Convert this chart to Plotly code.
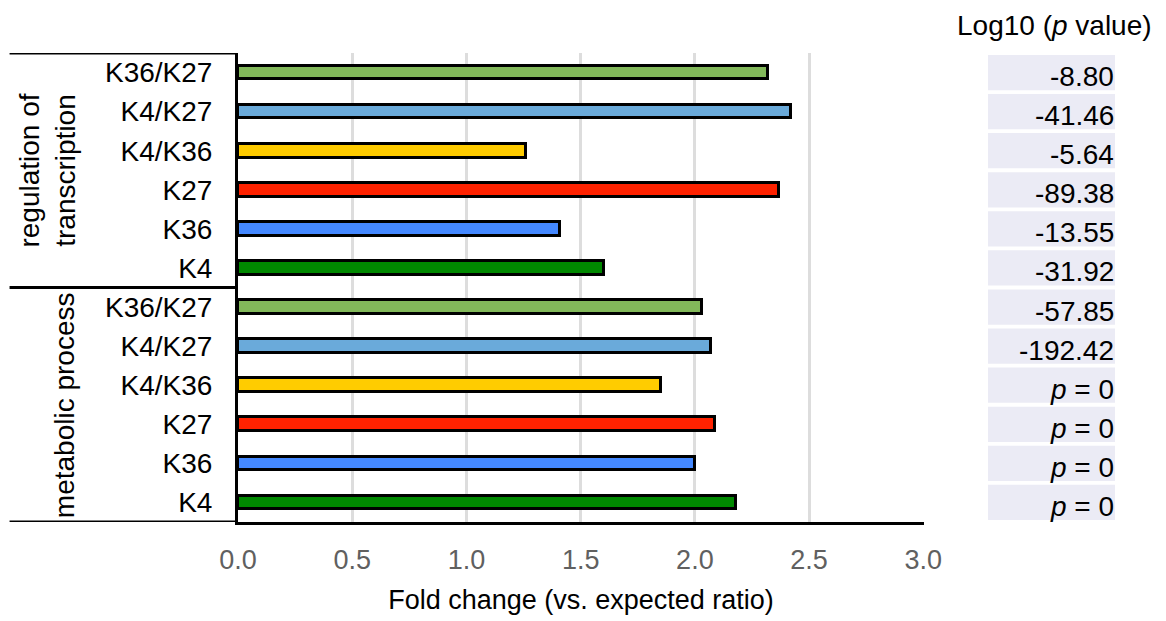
import plotly.graph_objects as go

# Categories, listed top to bottom within each group
groups = ["regulation of<br>transcription", "metabolic process"]
marks = ["K36/K27", "K4/K27", "K4/K36", "K27", "K36", "K4"]

# Fold change (vs. expected ratio)
fold_regulation = [2.32, 2.42, 1.26, 2.37, 1.41, 1.60]
fold_metabolic = [2.03, 2.07, 1.85, 2.09, 2.00, 2.18]

# Log10 p values (None means p = 0)
logp_regulation = [-8.80, -41.46, -5.64, -89.38, -13.55, -31.92]
logp_metabolic = [-57.85, -192.42, None, None, None, None]

mark_colors = {
    "K36/K27": "#82B85A",
    "K4/K27": "#6AAADA",
    "K4/K36": "#FFCC00",
    "K27": "#FF2200",
    "K36": "#4488FF",
    "K4": "#008800",
}

x_ticks = [0.0, 0.5, 1.0, 1.5, 2.0, 2.5, 3.0]

FONT = "Liberation Sans, Arial, sans-serif"

labels = marks + marks
values = fold_regulation + fold_metabolic
logps = logp_regulation + logp_metabolic
rows = list(range(len(labels)))
colors = [mark_colors[m] for m in labels]

fig = go.Figure()
fig.add_trace(go.Bar(
    x=values, y=rows, orientation="h",
    width=0.35,
    marker=dict(color=colors, line=dict(color="black", width=3)),
    hoverinfo="x",
    showlegend=False,
))

shapes = []
annotations = []

# Bracket lines separating the two groups on the left
n_per_group = len(marks)
for yb in [-0.5, n_per_group - 0.5, 2 * n_per_group - 0.5]:
    shapes.append(dict(type="line", xref="paper", yref="y",
                       x0=-0.333, x1=0, y0=yb, y1=yb,
                       line=dict(color="black", width=3)))

# Rotated group labels
group_x = [-0.278, -0.253]
for gi, g in enumerate(groups):
    annotations.append(dict(
        text=g, xref="paper", yref="y",
        x=group_x[gi], y=gi * n_per_group + (n_per_group - 1) / 2,
        xanchor="center", yanchor="middle",
        showarrow=False, textangle=-90,
        font=dict(family=FONT, size=28, color="black"),
        align="center",
    ))

# p value table on the right
cell_x0, cell_x1 = 1.0933, 1.2784
for r, lp in zip(rows, logps):
    shapes.append(dict(type="rect", xref="paper", yref="y",
                       x0=cell_x0, x1=cell_x1, y0=r - 0.45, y1=r + 0.45,
                       fillcolor="#EBEBF5", line=dict(width=0), layer="below"))
    txt = "<i>p</i> = 0" if lp is None else f"{lp:.2f}"
    annotations.append(dict(
        text=txt, xref="paper", yref="y",
        x=cell_x1 + 0.001, y=r, xanchor="right", yanchor="middle",
        yshift=-4, showarrow=False,
        font=dict(family=FONT, size=28, color="black"),
    ))

annotations.append(dict(
    text="Log10 (<i>p</i> value)", xref="paper", yref="paper",
    x=1.19, y=1.058, xanchor="center", yanchor="middle",
    showarrow=False, font=dict(family=FONT, size=28, color="black"),
))

fig.update_layout(
    width=1166, height=621,
    margin=dict(l=238, r=242, t=53, b=99, pad=0),
    plot_bgcolor="white", paper_bgcolor="white",
    shapes=shapes, annotations=annotations,
    bargap=0,
    xaxis=dict(
        range=[0, 3.003], tickvals=x_ticks,
        ticktext=[f"{v:.1f}" for v in x_ticks],
        showgrid=True, gridcolor="#DDDDDD", gridwidth=3,
        zeroline=False,
        showline=True, linecolor="black", linewidth=3,
        ticks="", ticklabelstandoff=12,
        tickfont=dict(family=FONT, size=27, color="#606060"),
        title=dict(text="Fold change (vs. expected ratio)",
                   font=dict(family=FONT, size=27, color="black"),
                   standoff=16),
    ),
    yaxis=dict(
        range=[len(rows) - 0.5, -0.5],
        tickvals=rows, ticktext=labels,
        showgrid=False, zeroline=False,
        showline=True, linecolor="black", linewidth=3,
        ticks="", ticklabelstandoff=17,
        tickfont=dict(family=FONT, size=28, color="black"),
    ),
)

fig.write_html("out.html")
